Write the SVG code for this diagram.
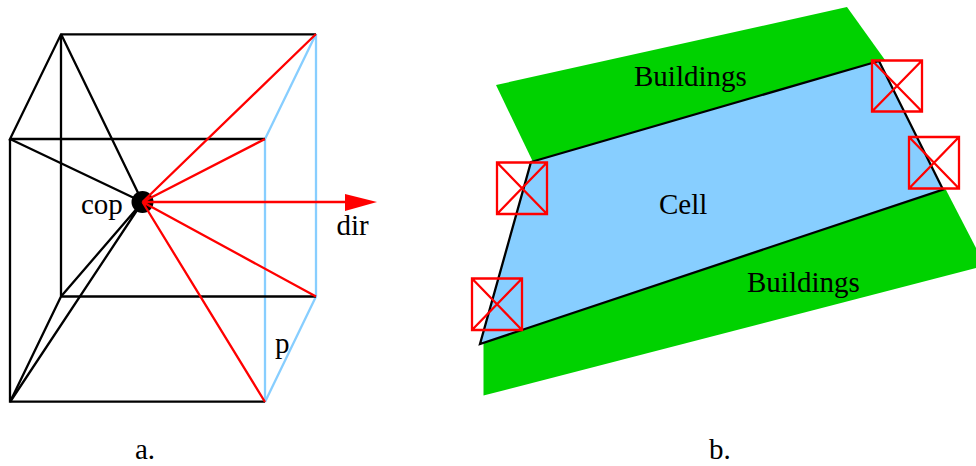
<svg xmlns="http://www.w3.org/2000/svg" width="976" height="466" viewBox="0 0 976 466">
<style>
text{font-family:"Liberation Serif","Times New Roman",serif;font-size:29px;fill:#000}
.k{fill:none;stroke:#000;stroke-width:2.3}
.r{fill:none;stroke:#f00;stroke-width:2.3}
.b{fill:none;stroke:#87ceff;stroke-width:2.3}
.g{fill:#00d200}
</style>
<rect width="976" height="466" fill="#fff"/>
<g id="panel-a">
<g id="edges-blue"><path class="b" d="M265 139V402L316 296.500V34L265 139"/></g>
<g id="edges-black"><path class="k" d="M316 34.300H61L10 139H265M61 34V296.500H316M10 139V401.700H265M61 296.500L10 402"/>
<path class="k" d="M61 34L142.500 202M10 139L142.500 202M61 296.500L142.500 202M10 402L142.500 202"/></g>
<circle id="cop-dot" cx="142.500" cy="202" r="11" fill="#000"/>
<g id="edges-red"><path class="r" d="M142.500 202L316 34M142.500 202L265 139M142.500 202L316 296.500M142.500 202L265 402M142.500 202H346"/>
<path d="M345 194L377 202L345 211Z" fill="#f00"/></g>
<g id="label-cop"><text x="81" y="214">cop</text></g>
<g id="label-dir"><text x="336.500" y="235">dir</text></g>
<g id="label-p"><text x="275" y="353">p</text></g>
<g id="label-a"><text x="135" y="459">a.</text></g>
</g>
<g id="panel-b">
<path id="buildings-top" class="g" d="M496 85L847 7L885 60L533 162Z"/>
<path id="buildings-bottom" class="g" d="M945 188L976 248V268L483.500 395.500V343Z"/>
<path id="cell" d="M531 162L879 61L943 189.500L480 344Z" fill="#87ceff" stroke="#000" stroke-width="2.300"/>
<g id="box-tr"><path class="r" d="M872 60.500H922V111.500H872ZM872 60.500L922 111.500M922 60.500L872 111.500"/></g>
<g id="box-r"><path class="r" d="M909 137H959V188.500H909ZM909 137L959 188.500M959 137L909 188.500"/></g>
<g id="box-tl"><path class="r" d="M497 162.500H547V214H497ZM497 162.500L547 214M547 162.500L497 214"/></g>
<g id="box-bl"><path class="r" d="M472 278.500H522V330H472ZM472 278.500L522 330M522 278.500L472 330"/></g>
<g id="label-buildings-top"><text x="634" y="86">Buildings</text></g>
<g id="label-cell"><text x="659" y="214">Cell</text></g>
<g id="label-buildings-bottom"><text x="747" y="292">Buildings</text></g>
<g id="label-b"><text x="709" y="459">b.</text></g>
</g>
</svg>
